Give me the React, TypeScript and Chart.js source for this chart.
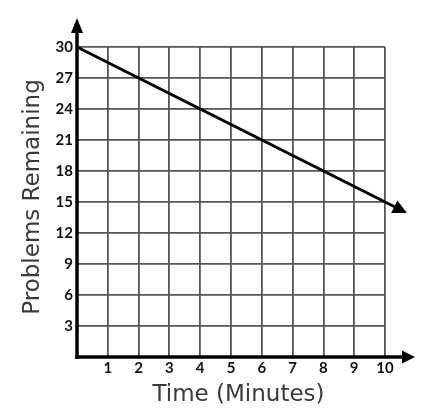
import React, { useEffect, useRef } from 'react';
import { Chart, registerables } from 'chart.js';

Chart.register(...registerables);

// Data
const timeMinutes = [0, 10.65];
const problemsRemaining = [30, 14.03];

// Axis ticks
const xTickValues = [0, 1, 2, 3, 4, 5, 6, 7, 8, 9, 10];
const yTickValues = [0, 3, 6, 9, 12, 15, 18, 21, 24, 27, 30];

const xTitle = 'Time (Minutes)';
const yTitle = 'Problems Remaining';

function drawArrow(
  ctx: CanvasRenderingContext2D,
  fx: number,
  fy: number,
  tx: number,
  ty: number,
  len: number,
  halfW: number,
  lineW: number,
  drawShaft: boolean
) {
  const dx = tx - fx;
  const dy = ty - fy;
  const d = Math.hypot(dx, dy) || 1;
  const ux = dx / d;
  const uy = dy / d;
  const bx = tx - ux * len;
  const by = ty - uy * len;
  if (drawShaft) {
    ctx.lineWidth = lineW;
    ctx.beginPath();
    ctx.moveTo(fx, fy);
    ctx.lineTo(bx + ux * 2, by + uy * 2);
    ctx.stroke();
  }
  ctx.beginPath();
  ctx.moveTo(tx, ty);
  ctx.lineTo(bx - uy * halfW, by + ux * halfW);
  ctx.lineTo(bx + uy * halfW, by - ux * halfW);
  ctx.closePath();
  ctx.fill();
}

export default function App() {
  const canvasRef = useRef<HTMLCanvasElement>(null);

  useEffect(() => {
    if (!canvasRef.current) return;

    const decorPlugin = {
      id: 'decor',
      afterDatasetsDraw(chart: any) {
        const ctx: CanvasRenderingContext2D = chart.ctx;
        const xs = chart.scales.x;
        const ys = chart.scales.y;
        const x0 = xs.getPixelForValue(0);
        const y0 = ys.getPixelForValue(0);
        const { top, right } = chart.chartArea;
        ctx.save();
        ctx.strokeStyle = '#000';
        ctx.fillStyle = '#000';
        ctx.lineCap = 'butt';
        // y axis with arrow
        drawArrow(ctx, x0, y0 + 1.75, x0, top - 29, 15, 6, 3.5, true);
        // x axis with arrow
        drawArrow(ctx, x0 - 1.75, y0, right + 30, y0, 13, 6.5, 3.5, true);
        // arrowhead at end of data line
        const n = timeMinutes.length;
        const px1 = xs.getPixelForValue(timeMinutes[n - 2]);
        const py1 = ys.getPixelForValue(problemsRemaining[n - 2]);
        const px2 = xs.getPixelForValue(timeMinutes[n - 1]);
        const py2 = ys.getPixelForValue(problemsRemaining[n - 1]);
        const d = Math.hypot(px2 - px1, py2 - py1);
        const tipX = px2 + ((px2 - px1) / d) * 2;
        const tipY = py2 + ((py2 - py1) / d) * 2;
        drawArrow(ctx, px1, py1, tipX, tipY, 14, 7, 3, false);
        ctx.restore();
      },
      afterDraw(chart: any) {
        const ctx: CanvasRenderingContext2D = chart.ctx;
        const { left, right, top, bottom } = chart.chartArea;
        ctx.save();
        ctx.fillStyle = '#3a3a3a';
        ctx.font = '23px "DejaVu Sans"';
        ctx.textAlign = 'center';
        ctx.textBaseline = 'middle';
        ctx.fillText(xTitle, (left + right) / 2 + 7.5, bottom + 38);
        ctx.translate(left - 44, (top + bottom) / 2 - 5);
        ctx.rotate(-Math.PI / 2);
        ctx.fillText(yTitle, 0, 0);
        ctx.restore();
      },
    };

    const tickFont = { family: 'Lato', weight: 'bold' as const, size: 15 };
    const gridColor = '#555555';

    const chart = new Chart(canvasRef.current, {
      type: 'scatter',
      data: {
        datasets: [
          {
            data: timeMinutes.map((t, i) => ({ x: t, y: problemsRemaining[i] })),
            showLine: true,
            borderColor: '#000',
            borderWidth: 3,
            pointRadius: 0,
            pointHoverRadius: 0,
            clip: false as any,
          },
        ],
      },
      options: {
        animation: false,
        responsive: true,
        maintainAspectRatio: false,
        layout: { padding: { left: 0, top: 47, right: 51, bottom: 0 } },
        plugins: {
          legend: { display: false },
          tooltip: { enabled: false },
        },
        scales: {
          x: {
            type: 'linear',
            min: 0,
            max: 10,
            afterBuildTicks: (s: any) => {
              s.ticks = xTickValues.map((v) => ({ value: v }));
            },
            afterFit: (s: any) => {
              s.height = 63;
            },
            ticks: {
              autoSkip: false,
              maxRotation: 0,
              padding: 2,
              color: '#111',
              font: tickFont,
              callback: (v: any) => (v === 0 ? '' : String(v)),
            },
            grid: { color: gridColor, lineWidth: 1.8, drawTicks: false },
            border: { display: false },
          },
          y: {
            type: 'linear',
            min: 0,
            max: 30,
            afterBuildTicks: (s: any) => {
              s.ticks = yTickValues.map((v) => ({ value: v }));
            },
            afterFit: (s: any) => {
              s.width = 77;
            },
            ticks: {
              autoSkip: false,
              padding: 4,
              color: '#111',
              font: tickFont,
              callback: (v: any) => (v === 0 ? '' : String(v)),
            },
            grid: { color: gridColor, lineWidth: 1.8, drawTicks: false },
            border: { display: false },
          },
        },
      },
      plugins: [decorPlugin],
    });

    return () => chart.destroy();
  }, []);

  return (
    <div
      style={{
        position: 'fixed',
        left: 0,
        top: 0,
        width: 436,
        height: 420,
        background: '#fff',
      }}
    >
      <canvas ref={canvasRef} />
    </div>
  );
}
